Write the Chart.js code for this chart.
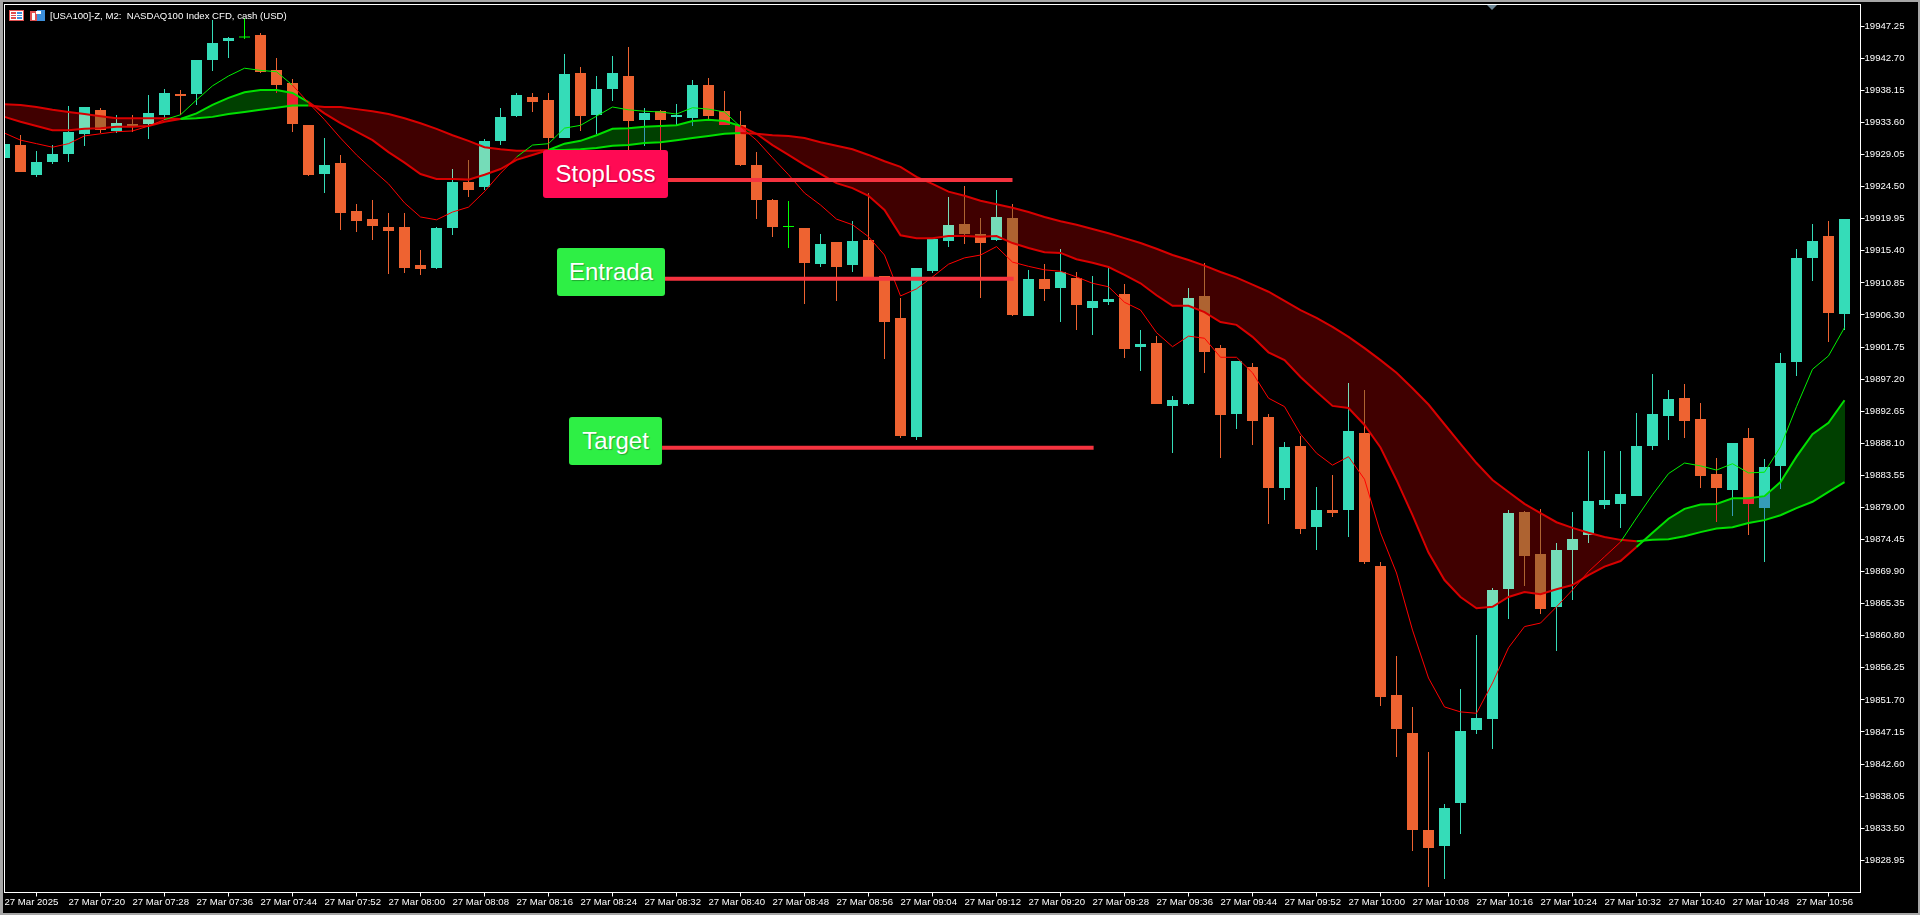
<!DOCTYPE html>
<html>
<head>
<meta charset="utf-8">
<title>USA100 M2</title>
<script src="https://cdn.jsdelivr.net/npm/chart.js@4/dist/chart.umd.min.js"></script>
<style>
  html, body { margin: 0; padding: 0; background: #000; overflow: hidden; }
  #wrap { position: relative; width: 1920px; height: 915px; }
  canvas { position: absolute; left: 0; top: 0; }
  #frame { position: absolute; left: 0; top: 0; width: 1920px; height: 915px; box-sizing: border-box;
           border-style: solid; border-color: #a6a6a6; border-width: 2px 2px 2px 3px; pointer-events: none; }
  #title { position: absolute; left: 50px; top: 10px; color: #fff; white-space: pre;
           font: 9.6px "Liberation Sans", Arial, sans-serif; }
  .icon { position: absolute; top: 10px; }
  .tag { position: absolute; height: 48px; text-align: center; color: #fff; border-radius: 3px;
         font: 24px/47px "Liberation Sans", Arial, sans-serif; text-shadow: 1px 1px 1px rgba(0,0,0,.3); }
  #marker { position: absolute; left: 1487px; top: 5px; width: 0; height: 0;
            border-left: 5px solid transparent; border-right: 5px solid transparent; border-top: 5px solid #6e8796; }
</style>
</head>
<body>
<div id="wrap">
  <canvas id="chart" width="1920" height="915"></canvas>
  <div id="frame"></div>
  <div id="marker"></div>
  <svg class="icon" style="left:9px" width="15" height="11">
    <rect x="0.5" y="0.5" width="14" height="10" fill="#fff" stroke="#e05050"/>
    <rect x="2" y="2" width="5" height="2" fill="#e05050"/><rect x="2" y="5" width="5" height="1" fill="#e05050"/><rect x="2" y="7" width="5" height="2" fill="#e05050"/>
    <rect x="8" y="2" width="5" height="2" fill="#3c8fdc"/><rect x="8" y="5" width="5" height="1" fill="#3c8fdc"/><rect x="8" y="7" width="5" height="2" fill="#3c8fdc"/>
  </svg>
  <svg class="icon" style="left:30px" width="15" height="11">
    <rect x="0" y="1" width="7" height="10" fill="#e05050"/><rect x="7" y="0" width="8" height="11" fill="#3c8fdc"/>
    <rect x="2" y="3" width="3" height="7" fill="#fff"/><rect x="6" y="1" width="5" height="3" fill="#fff"/>
  </svg>
  <div id="title">[USA100]-Z, M2:  NASDAQ100 Index CFD, cash (USD)</div>
  <div class="tag" style="left:543px;top:150px;width:125px;background:#ff0a54">StopLoss</div>
  <div class="tag" style="left:557px;top:248px;width:108px;background:#2eef45">Entrada</div>
  <div class="tag" style="left:569px;top:417px;width:93px;background:#2eef45">Target</div>
</div>

<script>
// Axis labels
const timeLabels = ["27 Mar 2025", "27 Mar 07:20", "27 Mar 07:28", "27 Mar 07:36", "27 Mar 07:44", "27 Mar 07:52",
  "27 Mar 08:00", "27 Mar 08:08", "27 Mar 08:16", "27 Mar 08:24", "27 Mar 08:32", "27 Mar 08:40", "27 Mar 08:48", "27 Mar 08:56",
  "27 Mar 09:04", "27 Mar 09:12", "27 Mar 09:20", "27 Mar 09:28", "27 Mar 09:36", "27 Mar 09:44", "27 Mar 09:52",
  "27 Mar 10:00", "27 Mar 10:08", "27 Mar 10:16", "27 Mar 10:24", "27 Mar 10:32", "27 Mar 10:40", "27 Mar 10:48", "27 Mar 10:56"];
const priceTicks = [19947.25, 19942.70, 19938.15, 19933.60, 19929.05, 19924.50, 19919.95, 19915.40, 19910.85, 19906.30,
  19901.75, 19897.20, 19892.65, 19888.10, 19883.55, 19879.00, 19874.45, 19869.90, 19865.35, 19860.80, 19856.25, 19851.70,
  19847.15, 19842.60, 19838.05, 19833.50, 19828.95];

// Candles, one every 2 minutes
const opens = [19928.57,19930.41,19926.16,19928.00,19929.14,19931.97,19935.38,19932.40,19933.39,19933.39,19934.67,19937.65,19937.65,19942.47,19945.16,19945.66,19946.02,19941.05,19939.21,19933.25,
  19926.30,19927.86,19921.05,19919.92,19918.78,19918.78,19913.39,19912.97,19918.64,19925.16,19924.46,19930.98,19934.53,19937.22,19936.80,19931.41,19940.63,19934.67,19938.36,19940.20,
  19933.96,19935.24,19934.39,19934.24,19938.92,19935.24,19933.25,19927.58,19922.61,19918.78,19918.64,19913.54,19916.65,19913.39,19916.94,19911.83,19905.87,19889.00,19912.54,19916.80,
  19919.21,19917.79,19916.94,19920.06,19906.16,19911.41,19910.13,19911.55,19907.29,19908.14,19909.28,19901.76,19902.33,19893.39,19893.68,19908.99,19901.62,19892.26,19898.92,19891.83,
  19881.76,19887.72,19876.23,19878.64,19878.64,19889.56,19870.70,19852.40,19847.01,19833.25,19830.98,19837.08,19847.44,19849.00,19867.44,19878.36,19872.40,19864.88,19872.97,19875.10,
  19879.35,19879.49,19880.63,19887.72,19891.98,19894.53,19891.55,19883.75,19881.48,19888.86,19878.92,19884.88,19899.63,19914.39,19917.51,19906.44];
const closes = [19930.56,19926.58,19928.00,19929.14,19932.26,19935.80,19932.54,19933.53,19933.11,19934.95,19937.79,19937.36,19942.47,19944.88,19945.59,19945.66,19940.77,19938.92,19933.39,19926.16,
  19927.58,19920.77,19919.63,19918.92,19918.22,19912.97,19912.82,19918.64,19925.16,19924.03,19930.98,19934.39,19937.51,19936.51,19931.41,19940.48,19934.53,19938.36,19940.63,19933.82,
  19934.95,19933.96,19934.67,19938.92,19934.53,19933.25,19927.58,19922.61,19918.78,19918.78,19913.68,19916.37,19913.11,19916.80,19911.55,19905.31,19889.14,19912.97,19917.08,19919.07,
  19917.79,19916.51,19920.20,19906.30,19911.41,19909.99,19912.40,19907.72,19908.29,19908.57,19901.48,19902.19,19893.68,19894.24,19908.71,19901.05,19892.12,19899.78,19891.27,19881.76,
  19887.58,19875.95,19878.64,19878.22,19889.85,19871.27,19852.12,19847.58,19833.25,19830.70,19836.37,19847.30,19849.14,19867.29,19878.22,19872.12,19864.60,19872.97,19874.53,19879.92,
  19880.06,19880.91,19887.72,19892.26,19894.39,19891.27,19883.46,19881.76,19888.15,19879.49,19884.74,19899.49,19914.39,19916.80,19906.58,19919.92];
const highs = [19931.12,19931.83,19929.56,19930.41,19935.95,19935.80,19935.66,19934.67,19934.67,19937.51,19938.36,19938.21,19942.47,19948.14,19945.73,19948.43,19946.30,19942.75,19939.77,19933.25,
  19931.41,19929.00,19922.04,19922.61,19920.77,19920.77,19915.52,19918.78,19927.01,19928.29,19931.26,19935.66,19937.79,19937.79,19937.79,19943.32,19941.48,19940.20,19943.04,19944.31,
  19935.66,19935.38,19936.23,19939.63,19939.92,19938.07,19935.24,19929.42,19922.75,19922.47,19918.64,19917.79,19916.65,19919.63,19923.60,19911.83,19908.71,19912.97,19917.08,19923.04,
  19924.60,19920.06,19924.03,19922.04,19912.68,19913.54,19915.66,19912.40,19911.83,19912.97,19910.70,19904.17,19903.32,19894.81,19910.13,19913.68,19902.05,19899.78,19899.49,19892.26,
  19888.29,19889.14,19881.90,19883.61,19896.65,19895.66,19871.27,19857.93,19850.70,19844.32,19836.94,19853.25,19860.91,19867.58,19878.64,19878.50,19878.78,19873.96,19878.36,19887.01,
  19887.01,19887.01,19892.40,19897.93,19895.66,19896.51,19893.82,19886.02,19888.15,19890.27,19885.88,19900.91,19915.66,19919.21,19919.63,19919.92];
const lows = [19928.00,19926.58,19925.87,19927.72,19928.00,19930.27,19932.12,19932.12,19932.26,19931.26,19933.96,19934.67,19936.09,19940.91,19942.75,19945.45,19940.63,19937.79,19932.26,19926.02,
  19923.60,19918.36,19918.07,19916.94,19912.12,19912.26,19911.97,19912.82,19917.65,19923.04,19924.03,19930.41,19934.39,19935.09,19929.70,19931.41,19932.40,19931.97,19936.65,19929.70,
  19930.27,19929.70,19933.25,19933.11,19934.10,19933.25,19927.43,19919.92,19917.36,19915.80,19907.86,19913.11,19908.29,19912.40,19911.55,19900.06,19888.86,19888.57,19912.26,19915.95,
  19916.37,19908.71,19916.80,19906.16,19906.16,19908.29,19905.31,19904.17,19903.46,19907.72,19900.20,19898.36,19893.68,19886.73,19893.54,19898.07,19886.02,19890.13,19887.86,19876.66,
  19880.06,19875.24,19872.97,19877.65,19874.81,19870.98,19850.84,19843.61,19830.27,19825.17,19826.30,19832.68,19846.87,19844.74,19863.18,19867.86,19863.89,19858.64,19865.88,19873.96,
  19878.78,19876.09,19880.63,19887.15,19888.57,19888.86,19881.76,19876.94,19877.79,19875.10,19871.27,19881.62,19897.65,19911.12,19902.47,19904.17];

// Moving averages
const fastLine = [19932.1,19931.1,19930.6,19930.1,19930.6,19931.7,19932.0,19932.3,19932.4,19933.1,19934.0,19934.7,19936.8,19938.8,19940.2,19941.3,19941.0,19940.8,19938.9,19936.4,
  19934.0,19931.4,19929.0,19926.9,19924.9,19922.2,19920.2,19919.8,19920.9,19921.6,19923.8,19926.4,19928.7,19930.4,19930.6,19932.8,19933.2,19934.5,19935.8,19935.4,
  19935.2,19935.1,19934.8,19935.7,19935.5,19935.1,19933.0,19931.1,19928.6,19926.2,19923.6,19921.9,19919.9,19919.1,19917.4,19914.8,19909.0,19910.0,19911.7,19913.5,
  19914.4,19914.8,19916.0,19913.8,19913.2,19912.7,19912.5,19911.7,19910.8,19910.3,19908.1,19907.0,19903.8,19901.8,19903.3,19903.0,19900.3,19900.3,19898.1,19894.5,
  19893.3,19889.4,19886.7,19885.0,19886.2,19883.0,19875.4,19869.7,19861.6,19854.8,19850.7,19850.0,19849.8,19854.1,19859.1,19862.1,19862.6,19864.9,19867.3,19869.9,
  19872.0,19874.1,19877.5,19880.8,19883.8,19885.3,19884.9,19884.3,19885.2,19883.9,19884.0,19887.6,19893.3,19898.6,19900.5,19904.5];
const midLine = [19934.4,19933.7,19933.1,19932.5,19932.5,19932.7,19932.8,19933.0,19933.0,19933.1,19933.7,19934.1,19934.9,19936.1,19937.1,19937.9,19938.2,19938.2,19937.8,19936.5,
  19934.9,19933.5,19932.3,19931.1,19929.4,19927.9,19926.3,19925.6,19925.6,19925.5,19926.2,19927.0,19928.3,19929.0,19929.7,19930.6,19931.0,19931.8,19932.7,19932.8,
  19933.0,19933.1,19933.2,19933.8,19934.0,19933.8,19933.1,19932.0,19930.4,19929.0,19927.6,19926.3,19925.0,19924.3,19923.2,19921.2,19917.6,19917.2,19917.2,19917.5,
  19917.5,19917.4,19917.5,19916.5,19915.8,19915.2,19915.1,19914.2,19913.7,19913.1,19912.0,19910.8,19909.1,19907.6,19907.6,19906.7,19905.3,19904.9,19903.2,19901.0,
  19899.9,19897.5,19895.4,19893.4,19893.1,19890.7,19887.5,19882.9,19877.9,19872.6,19868.7,19866.3,19864.7,19864.9,19866.3,19867.0,19866.7,19867.4,19868.0,19869.4,
  19870.6,19871.4,19873.4,19875.4,19877.4,19878.8,19879.4,19879.5,19880.3,19880.3,19880.6,19882.6,19886.2,19889.4,19891.0,19894.2];
const slowLine = [19936.2,19936.1,19935.8,19935.4,19935.1,19934.8,19934.5,19934.2,19934.2,19934.2,19934.2,19934.1,19934.2,19934.4,19934.8,19935.1,19935.4,19935.7,19936.0,19936.0,
  19935.8,19935.8,19935.5,19935.2,19934.8,19934.2,19933.5,19932.7,19931.8,19931.0,19930.1,19929.8,19929.6,19929.6,19929.7,19929.7,19929.8,19930.0,19930.3,19930.4,
  19930.7,19930.8,19931.1,19931.4,19931.7,19932.0,19932.1,19932.0,19931.8,19931.7,19931.4,19930.8,19930.3,19929.8,19929.0,19928.1,19927.3,19925.9,19924.9,19923.8,
  19923.2,19922.5,19922.0,19921.5,19920.9,19920.2,19919.6,19919.1,19918.5,19917.9,19917.2,19916.5,19915.7,19914.8,19914.1,19913.3,19912.4,19911.6,19910.6,19909.6,
  19908.3,19907.0,19905.9,19904.6,19903.2,19901.6,19899.9,19898.1,19895.9,19893.6,19890.8,19888.0,19885.3,19882.9,19881.2,19879.5,19878.2,19876.9,19876.1,19875.4,
  19874.8,19874.4,19874.2,19874.4,19874.5,19874.9,19875.5,19876.0,19876.2,19876.8,19877.2,19877.9,19878.9,19879.8,19881.2,19882.6];
const fastGreenSpans = [[10, 18], [32, 46], [101, 115]];

// StopLoss, Entrada, Target lines
const setupLevels = [19925.45, 19911.45, 19887.48];
const setupFrom = [41.47, 41.28, 41.10];
const setupTo = [63.00, 63.07, 68.07];

const TEAL = "#35dcb8";
const ORANGE = "#ee6331";
const DOJI = "#00ff00";
const tickFont = { family: '"Liberation Sans", Arial, sans-serif', size: 9.6 };

function candleColor(i) {
  if (opens[i] === closes[i]) return DOJI;
  return closes[i] > opens[i] ? TEAL : ORANGE;
}

function toPoints(values) {
  return values.map((v, i) => ({ x: i, y: v }));
}

function isFastGreen(i) {
  return fastGreenSpans.some(span => i >= span[0] && i < span[1]);
}

function bandColor(red, green) {
  return ctx => midLine[ctx.p1DataIndex] > slowLine[ctx.p1DataIndex] ? green : red;
}

// Split the band where mid and slow cross, each run gets one colour
function bandRuns() {
  const runs = [];
  let run = [];
  let sign = 0;
  for (let i = 0; i < midLine.length; i++) {
    const d0 = midLine[i] - slowLine[i];
    run.push({ x: i, a: midLine[i], b: slowLine[i] });
    if (sign === 0) sign = Math.sign(d0);
    if (i === midLine.length - 1) break;
    const d1 = midLine[i + 1] - slowLine[i + 1];
    if (d1 !== 0 && sign !== 0 && Math.sign(d1) !== sign) {
      const t = d0 / (d0 - d1);
      const y = midLine[i] + (midLine[i + 1] - midLine[i]) * t;
      const cross = { x: i + t, a: y, b: y };
      run.push(cross);
      runs.push({ green: sign > 0, points: run });
      run = [cross];
      sign = Math.sign(d1);
    }
  }
  runs.push({ green: sign > 0, points: run });
  return runs;
}

// MT5 paints the band with XOR, candles show through it tinted
const bandPlugin = {
  id: "bandFill",
  afterDatasetDraw(chart, args) {
    if (args.meta.label !== "bodies") return;
    const w = chart.width, h = chart.height, x = chart.scales.x, y = chart.scales.y;
    const mask = document.createElement("canvas");
    mask.width = w;
    mask.height = h;
    const m = mask.getContext("2d");
    bandRuns().forEach(run => {
      m.beginPath();
      run.points.forEach(p => m.lineTo(x.getPixelForValue(p.x), y.getPixelForValue(p.a)));
      run.points.slice().reverse().forEach(p => m.lineTo(x.getPixelForValue(p.x), y.getPixelForValue(p.b)));
      m.closePath();
      m.fillStyle = run.green ? "#004000" : "#400000";
      m.fill();
    });
    const maskData = m.getImageData(0, 0, w, h).data;
    const image = chart.ctx.getImageData(0, 0, w, h);
    for (let k = 0; k < maskData.length; k += 4) {
      if (maskData[k + 3] > 127) {
        image.data[k] ^= maskData[k] > maskData[k + 1] ? 0x40 : 0;
        image.data[k + 1] ^= maskData[k + 1] > maskData[k] ? 0x40 : 0;
        image.data[k + 3] = 255;
      }
    }
    chart.ctx.putImageData(image, 0, 0);
  }
};

const framePlugin = {
  id: "plotFrame",
  afterDraw(chart) {
    const a = chart.chartArea, c = chart.ctx;
    c.save();
    c.strokeStyle = "#fff";
    c.lineWidth = 1;
    c.strokeRect(a.left, a.top, a.right - a.left, a.bottom - a.top);
    c.restore();
  }
};

function clearAxisPadding(scale) {
  scale.paddingLeft = scale.paddingRight = scale.paddingTop = scale.paddingBottom = 0;
}

const setupDatasets = setupLevels.map((level, i) => ({
  type: "line",
  label: "setup" + i,
  data: [{ x: setupFrom[i], y: level }, { x: setupTo[i], y: level }],
  borderColor: "#f5333f",
  borderWidth: 4,
  pointRadius: 0,
  order: 1
}));

new Chart(document.getElementById("chart"), {
  data: {
    datasets: [
      {
        type: "bar",
        label: "wicks",
        data: lows.map((low, i) => ({ x: i, y: [low, highs[i]] })),
        backgroundColor: ctx => candleColor(ctx.dataIndex),
        barThickness: 1,
        grouped: false,
        inflateAmount: 0,
        order: 6
      },
      {
        type: "bar",
        label: "bodies",
        data: opens.map((open, i) => ({ x: i, y: [open, closes[i]] })),
        backgroundColor: ctx => candleColor(ctx.dataIndex),
        barThickness: 11,
        minBarLength: 1,
        grouped: false,
        inflateAmount: 0,
        order: 5
      },
      {
        type: "line",
        label: "slow",
        data: toPoints(slowLine),
        borderWidth: 2,
        pointRadius: 0,
        segment: { borderColor: bandColor("#d80000", "#00e000") },
        order: 4
      },
      {
        type: "line",
        label: "mid",
        data: toPoints(midLine),
        borderWidth: 2,
        pointRadius: 0,
        segment: { borderColor: bandColor("#d80000", "#00e000") },
        order: 3
      },
      {
        type: "line",
        label: "fast",
        data: toPoints(fastLine),
        borderWidth: 1,
        pointRadius: 0,
        segment: { borderColor: ctx => isFastGreen(ctx.p0DataIndex) ? "#00f000" : "#ff0000" },
        order: 2
      },
      ...setupDatasets
    ]
  },
  options: {
    responsive: false,
    animation: false,
    devicePixelRatio: 1,
    layout: { padding: { left: 4.5, top: 4.5, right: 0, bottom: 0 } },
    plugins: { legend: { display: false }, tooltip: { enabled: false }, title: { display: false } },
    scales: {
      x: {
        type: "linear",
        offset: false,
        min: 0,
        max: 116,
        afterBuildTicks: scale => { scale.ticks = timeLabels.map((t, k) => ({ value: k * 4 })); },
        afterFit: scale => { scale.height = 22.5; clearAxisPadding(scale); },
        grid: { drawOnChartArea: false, color: "#fff", tickLength: 4 },
        border: { color: "#fff" },
        ticks: {
          color: "#fff",
          font: tickFont,
          align: "start",
          padding: 0,
          autoSkip: false,
          maxRotation: 0,
          callback: value => timeLabels[value / 4]
        }
      },
      y: {
        position: "right",
        min: 19824.38,
        max: 19950.34,
        afterBuildTicks: scale => { scale.ticks = priceTicks.map(v => ({ value: v })); },
        afterFit: scale => { scale.width = 59.5; clearAxisPadding(scale); },
        grid: { drawOnChartArea: false, color: "#fff", tickLength: 4 },
        border: { color: "#fff" },
        ticks: {
          color: "#fff",
          font: tickFont,
          padding: 0,
          autoSkip: false,
          callback: value => value.toFixed(2)
        }
      }
    }
  },
  plugins: [bandPlugin, framePlugin]
});
</script>
</body>
</html>
